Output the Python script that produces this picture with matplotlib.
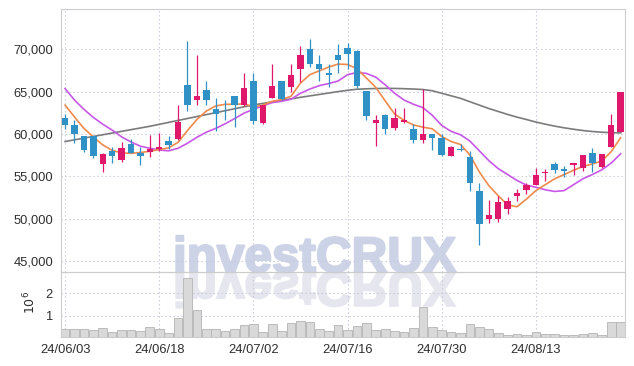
import numpy as np
import pandas as pd
import matplotlib
matplotlib.use('Agg')
import matplotlib.pyplot as plt
import matplotlib.patheffects as pe
from matplotlib.textpath import TextPath
from matplotlib.patches import PathPatch
from matplotlib.font_manager import FontProperties
from matplotlib.transforms import Affine2D

# ---------------- data ----------------
holidays = ['2024-06-06', '2024-08-15']
dates = [d for d in pd.bdate_range('2024-06-03', '2024-08-27')
         if d.strftime('%Y-%m-%d') not in holidays]

opens = [61900, 61000, 59700, 59700, 56400, 58000, 56900, 58800, 57800, 57900,
         58200, 59200, 59400, 65800, 64000, 65200, 63000, 63000, 64500, 63400,
         66200, 61300, 64300, 66200, 65500, 67700, 70000, 68300, 67200, 69300,
         70200, 69800, 65100, 61300, 62200, 60700, 61400, 60600, 59300, 60000,
         59500, 57400, 58200, 57300, 53300, 49900, 50000, 51100, 52700, 53400,
         54000, 55400, 56400, 55800, 56300, 56000, 57800, 56100, 58500, 60200]
highs = [62400, 61600, 59800, 59800, 57800, 58500, 59100, 59400, 58400, 59900,
         60100, 59700, 63400, 71000, 69300, 66200, 64200, 64000, 64500, 67200,
         67200, 63400, 68300, 66200, 68300, 70400, 71200, 69300, 68200, 70600,
         70700, 69900, 65100, 62200, 62400, 63100, 63100, 61200, 65300, 60000,
         60000, 58600, 58800, 58000, 54200, 52200, 52700, 52600, 53500, 54200,
         56000, 55900, 56700, 56200, 56600, 57500, 58300, 57600, 62400, 64900]
lows = [60600, 58900, 57900, 57200, 55500, 56600, 56700, 57700, 56300, 57300,
        58000, 58200, 59300, 62700, 63400, 63400, 60400, 61600, 60800, 63300,
        61200, 61200, 64200, 64000, 65000, 66100, 67900, 66300, 65500, 67200,
        67700, 65400, 61600, 58600, 60000, 60500, 61300, 58900, 58900, 58100,
        57400, 57400, 58000, 53300, 46900, 49500, 49600, 50500, 52100, 52900,
        54000, 54400, 55400, 54900, 55100, 55600, 55500, 56000, 58400, 60200]
closes = [61100, 60000, 58100, 57400, 57600, 57400, 58300, 57800, 57400, 58200,
          58500, 58700, 61400, 63400, 64500, 64000, 62400, 62900, 63400, 65400,
          61500, 63400, 65700, 64100, 66900, 69300, 68300, 67700, 66900, 68700,
          69400, 65600, 62100, 61700, 60600, 61900, 61700, 59300, 60000, 59500,
          57500, 58500, 58100, 54200, 49400, 50400, 52000, 52100, 53000, 54000,
          55200, 55500, 55700, 55600, 56600, 57500, 56600, 57600, 61000, 64900]
volumes = [430000, 430000, 420000, 380000, 470000, 280000, 380000, 380000, 340000, 520000,
           430000, 250000, 910000, 2670000, 1260000, 430000, 430000, 330000, 430000, 590000,
           630000, 280000, 630000, 330000, 680000, 770000, 720000, 410000, 330000, 590000,
           370000, 550000, 680000, 370000, 430000, 330000, 310000, 470000, 1410000, 500000,
           370000, 280000, 250000, 630000, 520000, 410000, 240000, 160000, 190000, 160000,
           280000, 190000, 190000, 150000, 150000, 190000, 240000, 150000, 720000, 720000]
ma5 = [63400, 62000, 60650, 59650, 58700, 58050, 57750, 57700, 57800, 57950,
       58150, 58350, 59000, 60400, 61700, 62700, 63300, 63500, 63500, 63550,
       63200, 63400, 63850, 64050, 64450, 66000, 67000, 67450, 67900, 68250,
       68200, 67700, 66600, 65500, 63900, 62350, 61600, 61050, 60800, 60600,
       59700, 59100, 58750, 57500, 55500, 53900, 52700, 51600, 51400, 52300,
       53300, 54000, 54700, 55200, 55700, 56150, 56450, 56800, 57900, 59550]
ma10 = [65350, 64000, 62900, 61950, 61150, 60450, 59650, 59050, 58550, 58300,
        58100, 58000, 58300, 58900, 59600, 60200, 60650, 61200, 61800, 62450,
        62900, 63300, 63700, 63850, 64100, 64800, 65300, 65700, 65950, 66250,
        67000, 67250, 67150, 66700, 65800, 64800, 64000, 63500, 63100, 62200,
        61000, 60300, 59900, 59150, 58000, 56850, 55900, 55200, 54500, 53950,
        53700, 53400, 53200, 53300, 54000, 54700, 55200, 55750, 56550, 57650]
ma60 = [59100, 59300, 59500, 59700, 59900, 60100, 60300, 60500, 60700, 60900,
        61130, 61360, 61590, 61820, 62050, 62280, 62510, 62740, 62970, 63200,
        63420, 63600, 63780, 63960, 64140, 64320, 64490, 64660, 64830, 65000,
        65150, 65280, 65330, 65360, 65380, 65370, 65340, 65300, 65240, 65100,
        64800, 64500, 64200, 63800, 63400, 63000, 62650, 62300, 61980, 61700,
        61400, 61150, 60920, 60720, 60550, 60400, 60280, 60200, 60150, 60120]
price_ticks = [45000, 50000, 55000, 60000, 65000, 70000]
volume_ticks = [1, 2]
date_tick_step = 10

# ---------------- figure ----------------
W, H = 634, 366
fig = plt.figure(figsize=(W / 100, H / 100), dpi=100, facecolor='white')
L, R = 61.3, 625.3
T, M, B = 9.3, 272.3, 337.3
axp = fig.add_axes([L / W, 1 - M / H, (R - L) / W, (M - T) / H])
axv = fig.add_axes([L / W, 1 - B / H, (R - L) / W, (B - M) / H], sharex=axp)

FONT = 'Liberation Sans'
TXT = '#2e2e2e'
UP, DOWN = '#e0186c', '#2f91c6'
GRID = '#c6c8dc'
SPINE = '#cccccc'

x = np.arange(len(dates))
o = np.array(opens); c = np.array(closes)
hi = np.array(highs); lo = np.array(lows)
cols = [UP if cc >= oo else DOWN for oo, cc in zip(o, c)]

for ax in (axp, axv):
    ax.set_facecolor('none')
    for s in ax.spines.values():
        s.set_color(SPINE)
        s.set_linewidth(0.8)
    ax.grid(True, color=GRID, linestyle=(0, (1.2, 2.4)), linewidth=0.8)
    ax.set_axisbelow(True)
    ax.tick_params(length=0, pad=6, labelsize=9.3, colors=TXT)

# moving averages
axp.plot(x, ma60, color='#7b7b7b', lw=1.2, zorder=2)
axp.plot(x, ma10, color='#c857e8', lw=1.2, zorder=2)
axp.plot(x, ma5, color='#ef8a4c', lw=1.2, zorder=2)

# candles
axp.vlines(x, lo, hi, colors=cols, lw=0.9, zorder=3)
axp.bar(x, np.abs(c - o), bottom=np.minimum(o, c), width=0.68, color=cols,
        edgecolor='none', zorder=4)

axp.set_xlim(-0.4, len(dates) - 0.5)
axp.set_ylim(43650, 74720)
axp.set_yticks(price_ticks)
axp.set_yticklabels([f'{v:,}' for v in price_ticks], family=FONT, color=TXT)
axp.tick_params(axis='x', labelbottom=False)

# volume
vol = np.array(volumes) / 1e6
axv.bar(x, vol, width=0.92, color='#d9d9d9', edgecolor='#b4b4b4', linewidth=0.6, zorder=2)
axv.set_ylim(0.06, 2.925)
axv.set_yticks(volume_ticks)
axv.set_yticklabels([str(v) for v in volume_ticks], family=FONT, color=TXT)
tick_idx = list(range(0, len(dates), date_tick_step))
axv.set_xticks(tick_idx)
axv.set_xticklabels([dates[i].strftime('%y/%m/%d') for i in tick_idx],
                    family=FONT, color=TXT)
axv.tick_params(axis='x', pad=5)
axv.set_ylabel('$10^{6}$', fontsize=9, color=TXT)
axv.yaxis.set_label_coords(-0.041, 0.54)

# watermark (upright text + mirrored reflection)
WM_X, WM_BASE = 173, H - 271.7
fs = 35.6
WM_COL, MIR_COL = '#cdd3e7', '#e6e6ee'
fig.text(WM_X / W, WM_BASE / H, 'investCRUX', fontsize=fs, fontweight='bold',
         family=FONT, color=WM_COL, ha='left', va='baseline', zorder=-1,
         path_effects=[pe.withStroke(linewidth=1.6, foreground=WM_COL)])
tp = TextPath((0, 0), 'investCRUX', size=fs * 100 / 72,
              prop=FontProperties(family=FONT, weight='bold'))
mirror = PathPatch(tp, facecolor=MIR_COL, edgecolor=MIR_COL, linewidth=1.6,
                   zorder=-1,
                   transform=Affine2D().scale(1, -1).translate(WM_X, WM_BASE))
fig.add_artist(mirror)

fig.savefig('out.png', dpi=100, facecolor='white')
